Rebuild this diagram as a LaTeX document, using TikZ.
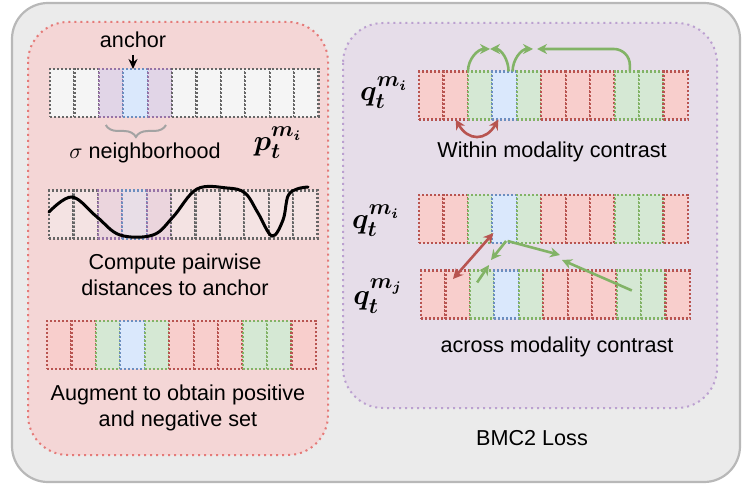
\documentclass[tikz,border=0pt]{standalone}
\usepackage{fontspec}
\setmainfont{Liberation Sans}
\usepackage{amsmath,bm}
\usetikzlibrary{arrows.meta,calc,decorations.pathreplacing}
\definecolor{wfill}{HTML}{F5F5F5}\definecolor{wline}{HTML}{666666}
\definecolor{pfill}{HTML}{E1D5E7}\definecolor{pline}{HTML}{9673A6}
\definecolor{bfill}{HTML}{DAE8FC}\definecolor{bline}{HTML}{6C8EBF}
\definecolor{rfill}{HTML}{F8CECC}\definecolor{rline}{HTML}{B85450}
\definecolor{gfill}{HTML}{D5E8D4}\definecolor{gline}{HTML}{82B366}
\definecolor{boxfill}{HTML}{EBEBEB}\definecolor{boxline}{HTML}{B8B8B8}
\definecolor{lpanel}{HTML}{F4D6D6}\definecolor{lpline}{HTML}{E57A78}
\definecolor{rpanel}{HTML}{E6DDE9}\definecolor{rpline}{HTML}{BBA0D0}

\begin{document}
\begin{tikzpicture}[x=0.5pt,y=0.5pt,
  every node/.style={font=\fontsize{10.8}{13}\selectfont},
  dots/.style={line width=1.1pt,dash pattern=on 1pt off 1pt},
  pdots/.style={line width=1pt,dash pattern=on 1pt off 2pt},
  cell/.style={dots,minimum width=12.2pt,minimum height=24pt,inner sep=0pt,outer sep=0pt},
  wc/.style={cell,fill=wfill,draw=wline},
  pc/.style={cell,fill=pfill,draw=pline},
  bc/.style={cell,fill=bfill,draw=bline},
  rc/.style={cell,fill=rfill,draw=rline},
  gc/.style={cell,fill=gfill,draw=gline},
  faded/.style={fill opacity=0.45},
  lbl/.style={font=\fontsize{15}{17}\selectfont},
  garr/.style={gline,line width=1.3pt,-{Stealth[length=5pt,width=5pt]}},
  rarr/.style={rline,line width=1.3pt,{Stealth[length=5pt,width=5pt]}-{Stealth[length=5pt,width=5pt]}}]
  \useasboundingbox (0,0) rectangle (747,-491);
  \draw[boxline,fill=boxfill,line width=1.1pt,rounded corners=18pt] (12,-3) rectangle (740,-482);
  \draw[lpline,fill=lpanel,pdots,rounded corners=20pt] (28,-22) rectangle (328,-455);
  \draw[rpline,fill=rpanel,pdots,rounded corners=20pt] (343,-23) rectangle (717,-408);
  % left panel
  \foreach \s [count=\k] in {wc,wc,pc,bc,pc,wc,wc,wc,wc,wc,wc}
    \node[\s] (n\k) at ({50+(\k-0.5)*24.4},-93) {};
  \foreach \s [count=\k] in {wc,wc,pc,bc,pc,wc,wc,wc,wc,wc,wc}
    \node[\s,faded] (d\k) at ({49+(\k-0.5)*24.4},-214.5) {};
  \foreach \s [count=\k] in {rc,rc,gc,bc,gc,rc,rc,rc,gc,gc,rc}
    \node[\s] (g\k) at ({47+(\k-0.5)*24.45},-345) {};
  \node (anc) at (133,-40) {anchor};
  \draw[line width=0.8pt,-{Stealth[length=5pt,width=4.5pt]}] (anc.south) -- (anc.south |- n4.north);
  \draw[decorate,decoration={brace,mirror,amplitude=6pt},wline!60,line width=1pt]
    ($(n3.south west)+(7,-8)$) -- ($(n5.south east)+(-6,-8)$);
  \node (sig) at (145,-153) {$\sigma$ neighborhood};
  \node[lbl] (plab) at (278,-143) {$\bm{p_t^{m_i}}$};
  \draw[line width=1.5pt,line cap=round] plot[smooth,tension=0.6] coordinates {(49,-212) (72,-197) (97,-217)
    (120,-235) (153,-235) (173,-217) (197,-189) (227,-188) (245,-193) (258,-213) (272,-236) (283,-220)
    (288,-196) (297,-189) (308,-187)};
  \node[align=center] (cmp) at (175,-275) {Compute pairwise\\distances to anchor};
  \node[align=center] (aug) at (178,-408) {Augment to obtain positive\\and negative set};
  % right panel
  \foreach \s [count=\k] in {rc,rc,gc,bc,gc,rc,rc,rc,gc,gc,rc}
    \node[\s] (w\k) at ({419+(\k-0.5)*24.45},-95.5) {};
  \foreach \s [count=\k] in {rc,rc,gc,bc,gc,rc,rc,rc,gc,gc,rc}
    \node[\s] (a\k) at ({419+(\k-0.5)*24.45},-219) {};
  \foreach \s [count=\k] in {rc,rc,gc,bc,gc,rc,rc,rc,gc,gc,rc}
    \node[\s] (b\k) at ({421+(\k-0.5)*24.45},-294.5) {};
  \node[lbl] (qw) at (384,-93) {$\bm{q_t^{m_i}}$};
  \node[lbl] (qa) at (376,-221) {$\bm{q_t^{m_i}}$};
  \node[lbl] (qb) at (378,-296) {$\bm{q_t^{m_j}}$};
  \node (wmc) at (552,-152) {Within modality contrast};
  \node (amc) at (557,-347) {across modality contrast};
  \node (loss) at (532,-438) {BMC2 Loss};
  \coordinate (x1) at (490,-49);\coordinate (x2) at (533,-49);\coordinate (x3) at (537,-49);
  \draw[garr] (w3.north west) to[out=90,in=180] (x1);
  \draw[garr] ($(w4.north)+(4,0)$) to[out=90,in=0] (x1);
  \draw[garr] ($(w4.north)+(8,0)$) to[out=90,in=180] (x2);
  \draw[garr,rounded corners=8pt] ($(w9.north)+(3,0)$) |- (x3);
  \draw[rarr] (w2.south) to[out=-60,in=-120,looseness=1.5] ($(w4.south west)+(6,0)$);
  \coordinate (c1) at (453,-279);\coordinate (c2) at (491,-260);\coordinate (c3) at (489,-265);
  \coordinate (c4) at (560,-255);\coordinate (c5) at (562,-260);
  \draw[rarr] ($(a4.south west)+(1,10)$) -- (c1);
  \draw[garr] ($(a4.south)+(1.5,2)$) -- (c2);
  \draw[garr] ($(b3.north)+(-5,-12)$) -- (c3);
  \draw[garr] ($(a4.south)+(3,2)$) -- (c4);
  \draw[garr] ($(b9.north)+(3,-20)$) -- (c5);
\end{tikzpicture}
\end{document}
